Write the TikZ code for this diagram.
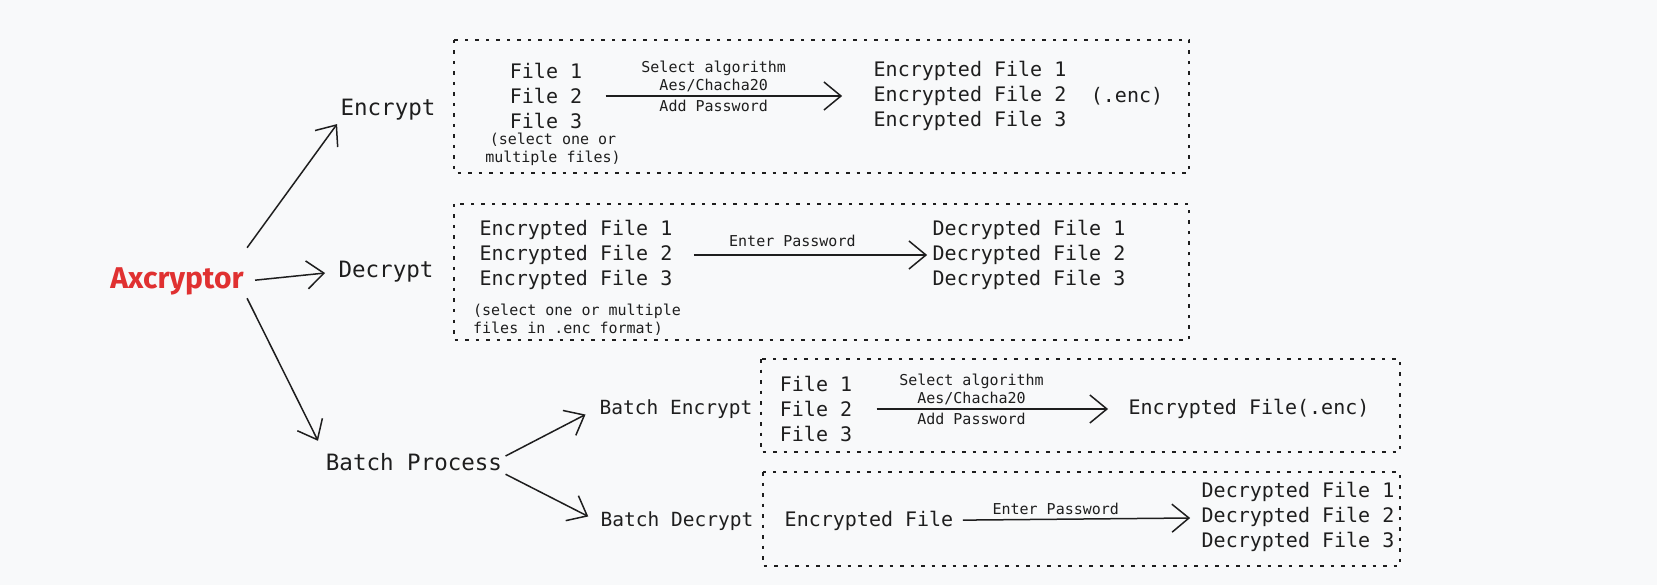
\documentclass[tikz,border=0pt]{standalone}
\usepackage{fontspec}
\setmonofont{DejaVu Sans Mono}
\newfontfamily\logofont{Fira Sans}
\usetikzlibrary{arrows.meta}
\definecolor{ink}{HTML}{1E1E1E}
\definecolor{axred}{HTML}{E03131}
\definecolor{paper}{HTML}{F8F9FA}
\newcommand{\tL}{\ttfamily\fontsize{22.5}{27}\selectfont}
\newcommand{\tM}{\ttfamily\fontsize{20}{25}\selectfont}
\newcommand{\tB}{\ttfamily\fontsize{19.5}{24}\selectfont}
\newcommand{\tS}{\ttfamily\fontsize{15}{18}\selectfont}

\begin{document}
\begin{tikzpicture}[x=1pt,y=1pt,
  every node/.style={text=ink},
  grp/.style={draw=ink, line width=1.6pt, dash pattern=on 3.5pt off 7pt},
  flow/.style={color=ink, line width=1.5pt, -{Straight Barb[length=17pt,width=28pt]}}]
  \fill[paper] (0,0) rectangle (1657,-585);
  \useasboundingbox (0,0) rectangle (1657,-585);

  % groups
  \draw[grp] (454,-40) rectangle (1189,-173);
  \draw[grp] (454,-204) rectangle (1189,-340);
  \draw[grp] (761,-359) rectangle (1400,-452);
  \draw[grp] (763,-472) rectangle (1400,-566);

  \node[font=\logofont\bfseries\fontsize{30}{36}\selectfont, text=axred] (ax) at (177,-281) {Axcryptor};
  \node[font=\tL] (enc) at (388,-110) {Encrypt};
  \node[font=\tL] (dec) at (386,-272) {Decrypt};
  \node[font=\tL] (batch) at (414,-462) {Batch Process};
  \node[font=\tB] (benc) at (676,-409) {Batch Encrypt};
  \node[font=\tB] (bdec) at (677,-521) {Batch Decrypt};

  % encrypt
  \node[font=\tM, align=center] (files1) at (546,-96) {File 1\\File 2\\File 3};
  \node[font=\tS, align=center] (note1) at (553,-149) {(select one or\\multiple files)};
  \node[font=\tM, align=left] (encf1) at (970,-96) {Encrypted File 1\\Encrypted File 2\\Encrypted File 3};
  \node[font=\tM] (ext1) at (1127,-96) {(.enc)};

  % decrypt
  \node[font=\tM, align=left] (encin2) at (576,-255) {Encrypted File 1\\Encrypted File 2\\Encrypted File 3};
  \node[font=\tS, align=left] (note2) at (577,-320) {(select one or multiple\\files in .enc format)};
  \node[font=\tM, align=left] (decf2) at (1029,-255) {Decrypted File 1\\Decrypted File 2\\Decrypted File 3};

  % batch
  \node[font=\tM, align=left] (files3) at (816,-409) {File 1\\File 2\\File 3};
  \node[font=\tM] (encf3) at (1249,-409) {Encrypted File(.enc)};
  \node[font=\tM] (encin4) at (869,-521) {Encrypted File};
  \node[font=\tM, align=left] (decf4) at (1298,-517) {Decrypted File 1\\Decrypted File 2\\Decrypted File 3};

  \path[flow]
    ([yshift=16pt]ax.north east) edge (enc.south west)
    (ax.east) edge[shorten <=8pt, shorten >=10pt] (dec.west)
    (ax.south east) edge[shorten >=10pt] (batch.north west)
    ([yshift=6pt]batch.east) edge[shorten >=12pt] (benc.west)
    (batch.south east) edge[shorten >=10pt] (bdec.west);
  \path[flow]
    (files1) edge[shorten <=20pt, shorten >=28pt]
      node[pos=0.45, above, font=\tS, align=center] {Select algorithm\\Aes/Chacha20}
      node[pos=0.45, below, font=\tS] {Add Password} (encf1)
    (encin2) edge[shorten <=18pt, shorten >=2pt]
      node[pos=0.46, above=4pt, font=\tS] {Enter Password} (decf2)
    (files3) edge[shorten <=21pt, shorten >=17pt]
      node[pos=0.43, above, font=\tS, align=center] {Select algorithm\\Aes/Chacha20}
      node[pos=0.43, below, font=\tS] {Add Password} (encf3)
    (encin4) edge[shorten <=6pt, shorten >=8pt]
      node[pos=0.41, above, font=\tS] {Enter Password} (decf4);
\end{tikzpicture}
\end{document}
